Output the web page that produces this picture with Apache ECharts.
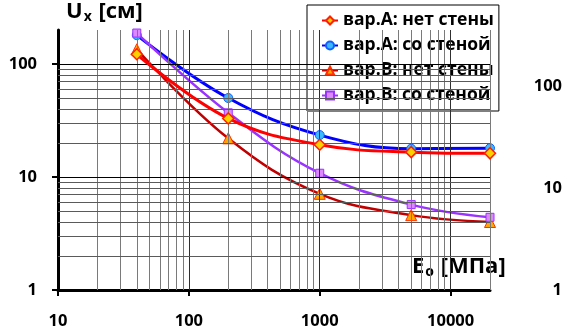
<!DOCTYPE html>
<html>
<head>
<meta charset="utf-8">
<script src="https://cdn.jsdelivr.net/npm/echarts@6/dist/echarts.min.js"></script>
<style>
  html, body { margin: 0; padding: 0; background: #fff; }
  #chart { width: 565px; height: 330px; }
</style>
</head>
<body>
<div id="chart"></div>
<script>
// E-modulus points (x), MPa
var eValues = [40, 200, 1000, 5000, 20000];
var seriesNames = ['вар.A: нет стены', 'вар.A: со стеной', 'вар.B: нет стены', 'вар.B: со стеной'];
var aNoWall = [122, 33, 19.3, 16.6, 16.2];
var aWall = [180, 50, 23.5, 17.8, 18];
var bNoWall = [135, 22, 7.1, 4.6, 4.0];
var bWall = [188, 37, 10.8, 5.7, 4.4];

var xTicks = [10, 100, 1000, 10000];
var yTicks = [1, 10, 100];
var xMinor = [20, 30, 40, 50, 60, 70, 80, 90, 200, 300, 400, 500, 600, 700, 800, 900,
    2000, 3000, 4000, 5000, 6000, 7000, 8000, 9000, 20000];
var yMinor = [2, 3, 4, 5, 6, 7, 8, 9, 20, 30, 40, 50, 60, 70, 80, 90];

var font = '"Open Sans", sans-serif';
var chart = echarts.init(document.getElementById('chart'));

function pairs(ys) {
    return eValues.map(function (x, i) { return [x, ys[i]]; });
}

function lines(list, axis, color) {
    return list.map(function (v) {
        var o = {};
        o[axis] = v;
        o.lineStyle = { color: color, width: 1, type: 'solid' };
        return o;
    });
}

var gridData = []
    .concat(lines(xMinor, 'xAxis', '#7a7a7a'))
    .concat(lines([100, 1000, 10000], 'xAxis', '#303030'))
    .concat(lines(yMinor, 'yAxis', '#5a5a5a'))
    .concat(lines([10, 100], 'yAxis', '#000'));

function isDecade(v) {
    return [1, 10, 100, 1000, 10000].indexOf(Math.round(v)) >= 0;
}

var labelStyle = { fontSize: 16.5, fontWeight: 'bold', color: '#000', fontFamily: font };
var titleRich = {
    a: { fontSize: 22, fontWeight: 'bold', fontFamily: font, fill: '#000' },
    b: { fontSize: 14, fontWeight: 'bold', fontFamily: font, fill: '#000', padding: [10, 1, 0, 1] }
};

var option = {
    animation: false,
    textStyle: { fontFamily: font },
    grid: { left: 58, right: 73, top: 30, bottom: 39 },
    legend: {
        orient: 'vertical',
        left: 307, top: 5,
        padding: [6, 5, 6, 14],
        itemGap: 6,
        itemWidth: 16,
        itemHeight: 10,
        backgroundColor: '#fff',
        borderColor: '#000',
        borderWidth: 1,
        borderRadius: 0,
        textStyle: { fontFamily: font, fontWeight: 'bold', fontSize: 17.5, lineHeight: 19, color: '#000' },
        data: seriesNames
    },
    xAxis: {
        type: 'log', logBase: 10, min: 10, max: 20000,
        axisLine: { lineStyle: { color: '#000', width: 3 } },
        axisTick: { show: true, length: 6, lineStyle: { color: '#000', width: 2 }, customValues: xTicks },
        axisLabel: Object.assign({
            margin: 23,
            customValues: xTicks,
            formatter: function (v) { return isDecade(v) ? String(Math.round(v)) : ''; }
        }, labelStyle),
        splitLine: { show: false }
    },
    yAxis: [{
        type: 'log', logBase: 10, min: 1, max: 200,
        axisLine: { show: true, lineStyle: { color: '#000', width: 3 } },
        axisTick: { show: true, length: 6, lineStyle: { color: '#000', width: 2 }, customValues: yTicks },
        axisLabel: Object.assign({
            margin: 21,
            customValues: yTicks,
            formatter: function (v) { return isDecade(v) ? String(Math.round(v)) : ''; }
        }, labelStyle),
        splitLine: { show: false }
    }, {
        type: 'log', logBase: 10, min: 1, max: 360, position: 'right',
        axisLine: { show: false },
        axisTick: { show: false },
        axisLabel: Object.assign({
            margin: 72, align: 'right',
            customValues: yTicks,
            formatter: function (v) { return isDecade(v) ? String(Math.round(v)) : ''; }
        }, labelStyle),
        splitLine: { show: false }
    }],
    graphic: [{
        type: 'text', left: 66, top: 1,
        style: { text: '{a|U}{b|x}{a| [см]}', rich: titleRich }
    }, {
        type: 'text', left: 412, top: 256,
        style: { text: '{a|E}{b|o}{a| [МПа]}', rich: titleRich }
    }],
    series: [
        {
            name: 'grid', type: 'line', data: [], silent: true, z: 1,
            markLine: { silent: true, symbol: 'none', label: { show: false }, animation: false, data: gridData }
        },
        {
            name: seriesNames[0], type: 'line', smooth: 0.4, data: pairs(aNoWall), z: 5,
            symbol: 'diamond', symbolSize: 11,
            lineStyle: { color: '#ff0000', width: 3 },
            itemStyle: { color: '#ffd000', borderColor: '#ff2000', borderWidth: 1.5 }
        },
        {
            name: seriesNames[1], type: 'line', smooth: 0.4, data: pairs(aWall), z: 4,
            symbol: 'circle', symbolSize: 9,
            lineStyle: { color: '#0000ff', width: 3 },
            itemStyle: { color: '#3cb8ff', borderColor: '#1060ff', borderWidth: 1 }
        },
        {
            name: seriesNames[2], type: 'line', smooth: 0.4, data: pairs(bNoWall), z: 4,
            symbol: 'triangle', symbolSize: 11,
            lineStyle: { color: '#c00000', width: 2.5 },
            itemStyle: { color: '#ffa800', borderColor: '#ff3000', borderWidth: 1 }
        },
        {
            name: seriesNames[3], type: 'line', smooth: 0.4, data: pairs(bWall), z: 4,
            symbol: 'rect', symbolSize: 8,
            lineStyle: { color: '#9933ff', width: 2.5 },
            itemStyle: { color: '#dd88ff', borderColor: '#9933ff', borderWidth: 1 }
        }
    ]
};

chart.setOption(option);
</script>
</body>
</html>
